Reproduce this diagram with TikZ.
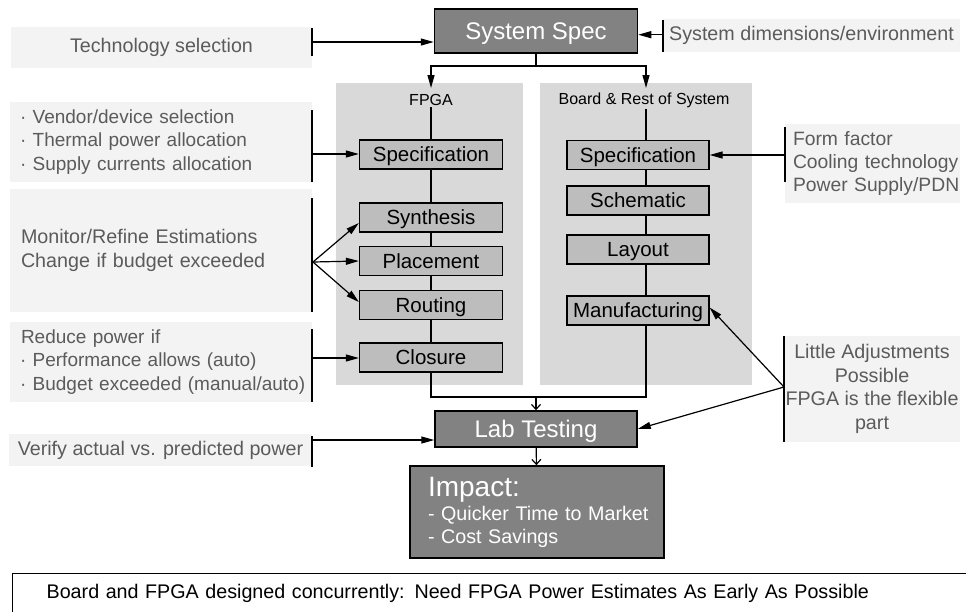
\documentclass[tikz,border=0pt]{standalone}
\usepackage{fontspec}
\setmainfont{Liberation Sans}
\usetikzlibrary{arrows.meta,calc}
\definecolor{darkbox}{HTML}{828282}
\definecolor{stepfill}{HTML}{BDBDBD}
\definecolor{panelfill}{HTML}{D9D9D9}
\definecolor{annfill}{HTML}{F3F3F3}
\definecolor{anntext}{HTML}{5B5B5B}
\pgfdeclarelayer{bg}
\pgfsetlayers{bg,main}
\newcommand\padln[2]{\hspace*{#1pt}\mbox{#2}}
\begin{document}
\begin{tikzpicture}[x=1pt,y=-1pt,
  ann/.style={fill=annfill, text=anntext, inner sep=0pt, font=\fontsize{19.7}{23.5}\selectfont},
  annl/.style={ann, align=left, inner xsep=0pt},
  annb/.style={annl, font=\fontsize{19}{23.5}\selectfont},
  bigbox/.style={fill=darkbox, draw=black, line width=1.5pt, text=white, inner sep=0pt, font=\fontsize{24}{28}\selectfont},
  capc/.style={text height=#1, text depth=0pt},
  stepbox/.style={fill=stepfill, draw=black, line width=1.3pt, inner sep=0pt, minimum width=143, minimum height=29, capc=14.6, font=\fontsize{20.5}{23}\selectfont},
  panel/.style={fill=panelfill, inner sep=0pt},
  plabel/.style={font=\fontsize{16}{18}\selectfont, inner sep=1pt},
  bar/.style={line width=1.3pt},
  conn/.style={line width=1.2pt},
  arr/.style={conn, -{Triangle[length=13pt,width=7pt]}},
  oarr/.style={conn, -{Straight Barb[length=5pt,width=9pt]}}
]
\useasboundingbox (0,0) rectangle (966,611);
\clip (0,0) rectangle (966,611);

% main boxes
\node[bigbox, capc=17.2, minimum width=203, minimum height=44] (syss) at (536,31) {System Spec};
\node[bigbox, capc=17.2, minimum width=202, minimum height=36] (lab) at (536,429) {Lab Testing};
\node[bigbox, minimum width=254, minimum height=92, align=left, text width=254, inner xsep=0pt, font=\fontsize{19.7}{23}\selectfont] (impact) at (537,512)
  {\padln{18}{\fontsize{28}{30}\selectfont Impact:}\\[1pt]\padln{18}{- Quicker Time to Market}\\\padln{18}{- Cost Savings}};

% panel labels
\node[plabel] (flab) at (431,100) {FPGA};
\node[plabel] (blab) at (644,100) {Board \& Rest of System};

% FPGA steps
\node[stepbox] (fspec) at (431,154.5) {Specification};
\node[stepbox] (fsyn)  at (431,217.5) {Synthesis};
\node[stepbox] (fplc)  at (431,261)   {Placement};
\node[stepbox] (frou)  at (431,305)   {Routing};
\node[stepbox] (fclo)  at (431,357.5) {Closure};

% Board steps
\node[stepbox, minimum width=142] (bspec) at (638,155)   {Specification};
\node[stepbox, minimum width=142] (bsch)  at (638,200.5) {Schematic};
\node[stepbox, minimum width=142] (blay)  at (638,249.5) {Layout};
\node[stepbox, minimum width=142] (bman)  at (638,310.5) {Manufacturing};

% annotation boxes
\node[ann, minimum width=301, minimum height=41] (tech) at (161.5,47.5) {Technology selection};
\node[ann, minimum width=297, minimum height=33] (sysdim) at (811.5,35.5) {System dimensions/environment};
\node[annb, minimum width=302, minimum height=80, text width=302] (vendor) at (161,142)
  {\padln{10}{· Vendor/device selection}\\\padln{10}{· Thermal power allocation}\\\padln{10}{· Supply currents allocation}};
\node[annl, minimum width=302, minimum height=123, text width=302] (monitor) at (161,250.5)
  {\padln{11}{Monitor/Refine Estimations}\\\padln{11}{Change if budget exceeded}};
\node[annb, minimum width=302, minimum height=80, text width=302] (reduce) at (161,362)
  {\padln{11}{Reduce power if}\\\padln{10}{· Performance allows (auto)}\\\padln{10}{· Budget exceeded (manual/auto)}};
\node[ann, minimum width=303, minimum height=32] (verify) at (160.5,450) {Verify actual vs. predicted power};
\node[annl, minimum width=175, minimum height=79, text width=175, font=\fontsize{19.3}{23.2}\selectfont] (form) at (872.5,163.5)
  {\padln{8}{Form factor}\\\padln{8}{Cooling technology}\\\padln{8}{Power Supply/PDN}};
\node[ann, minimum width=176, minimum height=106, align=center] (little) at (872,389)
  {Little Adjustments\\Possible\\FPGA is the flexible\\part};

% bottom note
\node[draw=black, fill=white, line width=1.3pt, anchor=north west, minimum width=970, minimum height=39,
      inner xsep=0pt, inner ysep=0pt, text width=970, align=left, font=\fontsize{19.7}{23}\selectfont] (note) at (12,573)
  {\padln{34}{Board and FPGA designed concurrently: Need FPGA Power Estimates As Early As Possible}};

% coordinates
\coordinate (sp) at (536,66);
\coordinate (fin) at (431,88);
\coordinate (bin) at (646,88);
\coordinate (jl) at (431,397);
\coordinate (jr) at (646,397);
\coordinate (jm) at (536,397);

\begin{pgfonlayer}{bg}
  \node[panel, minimum width=187, minimum height=302, anchor=north west] (fpanel) at (336,83) {};
  \node[panel, minimum width=212, minimum height=302, anchor=north west] (bpanel) at (540,83) {};
  \draw[conn] (flab) -- (fspec) -- (fsyn) -- (fplc) -- (frou) -- (fclo) -- (jl) -- (jr) -- (blab.south -| jr);
\end{pgfonlayer}

% split from system spec
\draw[conn] (syss) -- (sp);
\draw[arr] (sp) -| (fin);
\draw[arr] (sp) -| (bin);
\draw[oarr] (jm) -- (lab);
\draw[oarr] (lab) -- (impact);

% bars and arrows from annotations
\coordinate (tb) at (312,42);
\draw[bar] (312,28) -- (312,56);
\draw[arr] (tb) -- (tb -| syss.west);

\coordinate (sb) at (663,34.7);
\draw[bar] (663,20) -- (663,52);
\draw[arr] (sb) -- (sb -| syss.east);

\coordinate (vb) at (312,154);
\draw[bar] (312,110) -- (312,182);
\draw[arr] (vb) -- (vb -| fspec.west);

\coordinate (mb) at (313,262);
\draw[bar] (312,198) -- (312,312);
\draw[arr] (mb) -- ($(fsyn.west)+(0,5.5)$);
\draw[arr] (mb) -- (fplc.west);
\draw[arr] (mb) -- ($(frou.west)+(0,-3)$);

\coordinate (rb) at (312,358);
\draw[bar] (312,329) -- (312,402);
\draw[arr] (rb) -- (rb -| fclo.west);

\coordinate (pb) at (312,440);
\draw[bar] (312,436) -- (312,467);
\draw[arr] (pb) -- (pb -| lab.west);

\coordinate (ffb) at (785,155);
\draw[bar] (785,127) -- (785,182);
\draw[arr] (ffb) -- (ffb -| bspec.east);

\coordinate (lb) at (784,387);
\draw[bar] (784,336) -- (784,442);
\draw[arr] (lb) -- ($(bman.east)+(0,-3)$);
\draw[arr] (lb) -- (lab.east);
\end{tikzpicture}
\end{document}
